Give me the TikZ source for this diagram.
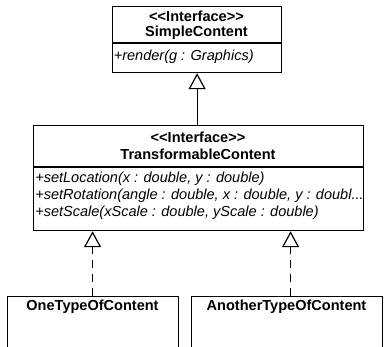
\documentclass[tikz,border=0pt]{standalone}
\usepackage{fontspec}
\setmainfont{Liberation Sans}
\usetikzlibrary{arrows.meta}
\newcommand\stereoI{<\kern0pt<\kern0pt Interface\kern0pt>\kern0pt>}
\begin{document}
\begin{tikzpicture}[x=0.75pt,y=-0.75pt,
  cls/.style={draw, line width=0.9pt, rectangle, inner sep=0pt, anchor=north west},
  ttl/.style={font=\fontsize{10.9pt}{13pt}\selectfont\bfseries, inner sep=0pt},
  meth/.style={font=\fontsize{10.9pt}{13pt}\selectfont\itshape, inner sep=0pt, anchor=west},
  sep/.style={line width=0.9pt},
  gen/.style={line width=0.9pt, -{Triangle[open, length=12pt, width=12.75pt]}},
  real/.style={gen, dash pattern=on 6pt off 4.5pt}]
\useasboundingbox (0,0) rectangle (384,346);
\clip (0,0) rectangle (384,346);
% SimpleContent
\node[cls, minimum width=126.75pt, minimum height=49.5pt] (simple) at (112,6) {};
\node[ttl] (simpleS) at (196.5,16) {\stereoI};
\node[ttl] (simpleN) at (196.5,32.5) {SimpleContent};
\draw[sep] (112,43) -- (281,43);
\node[meth] (render) at (113.5,56.5) {+render(g : Graphics)};
% TransformableContent
\node[cls, minimum width=247.5pt, minimum height=78.75pt] (trans) at (33,125) {};
\node[ttl] (transS) at (198,137) {\stereoI};
\node[ttl] (transN) at (198,154) {TransformableContent};
\draw[sep] (33,167) -- (363,167);
\node[meth] (m1) at (35,178.5) {+setLocation(x : double, y : double)};
\node[meth] (m2) at (35,196) {+setRotation(angle : double, x : double, y : doubl...};
\node[meth] (m3) at (35,213) {+setScale(xScale : double, yScale : double)};
% Implementations
\node[cls, minimum width=128.25pt, minimum height=60pt] (one) at (7,296) {};
\node[ttl] (oneN) at (92.5,306.5) {OneTypeOfContent};
\node[cls, minimum width=143.25pt, minimum height=60pt] (another) at (191,296) {};
\node[ttl] (anotherN) at (286.5,306.5) {AnotherTypeOfContent};
% Connectors
\draw[gen] (simple.south |- trans.north) -- (simple.south);
\draw[real] ([xshift=-0.4pt]one.north) -- ([xshift=-0.4pt]one.north |- trans.south);
\draw[real] ([xshift=2.6pt]another.north) -- ([xshift=2.6pt]another.north |- trans.south);
\end{tikzpicture}
\end{document}
